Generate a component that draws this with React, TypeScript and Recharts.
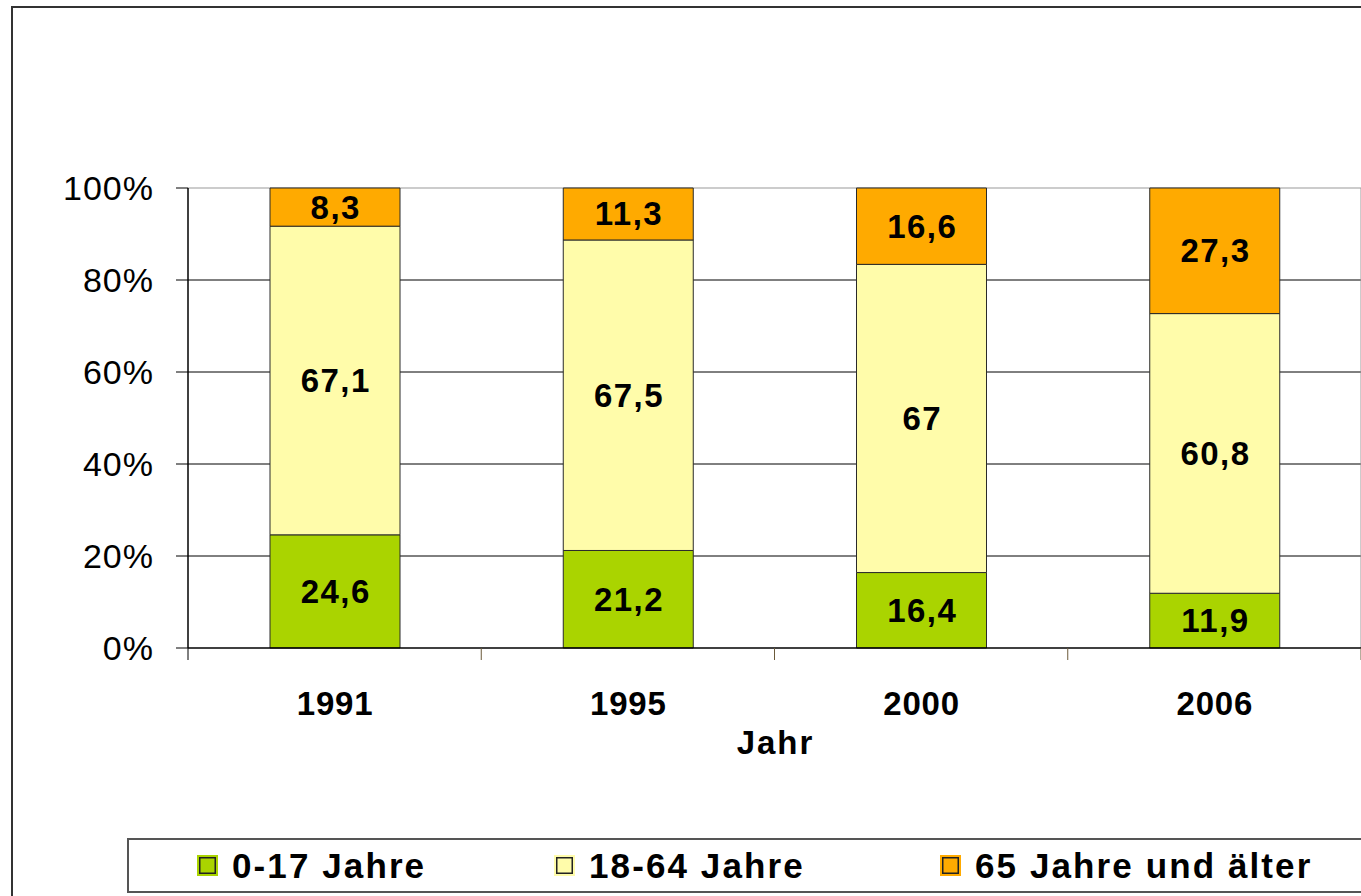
import React from "react";
import {
  BarChart,
  Bar,
  XAxis,
  YAxis,
  CartesianGrid,
  Legend,
  LabelList,
} from "recharts";

// ---- data ----
const years = ["1991", "1995", "2000", "2006"];
const kids = [24.6, 21.2, 16.4, 11.9]; // 0-17 Jahre
const adults = [67.1, 67.5, 67, 60.8]; // 18-64 Jahre
const seniors = [8.3, 11.3, 16.6, 27.3]; // 65 Jahre und älter
const seriesNames = ["0-17 Jahre", "18-64 Jahre", "65 Jahre und älter"];
const yTicks = [0, 20, 40, 60, 80, 100];
const gridValues = [20, 40, 60, 80];
const topValue = [100];
const xLabel = "Jahr";

const data = years.map((y, i) => ({
  year: y,
  kids: kids[i],
  adults: adults[i],
  seniors: seniors[i],
}));

const COLORS = ["#AAD400", "#FFFCAA", "#FFAA00"];
const FONT = "'Liberation Sans', Arial, sans-serif";

const CHART_W = 1500;
const CHART_H = 896;
const PLOT_LEFT = 188;
const PLOT_TOP = 188;
const PLOT_RIGHT = 1361;
const PLOT_BOTTOM = 648;
const Y_AXIS_W = 150;
const X_AXIS_H = 110;
const TICK = 12;

const fmt = (v: number) => String(v).replace(".", ",");

const XTick = (props: any) => {
  const { x, y, payload, index, width, visibleTicksCount } = props;
  let half =
    payload && typeof payload.offset === "number" && payload.offset > 0
      ? payload.offset
      : width / (2 * (visibleTicksCount || years.length));
  return (
    <g>
      {index === 0 && (
        <line x1={x - half} x2={x - half} y1={y} y2={y + TICK} stroke="#000" strokeWidth={1} />
      )}
      <line x1={x + half} x2={x + half} y1={y} y2={y + TICK} stroke="#6b5a3a" strokeWidth={1} />
      <text
        x={x + 0.5}
        y={y + 55}
        textAnchor="middle"
        dominantBaseline="central"
        fontFamily={FONT}
        fontWeight="bold"
        fontSize={33}
        letterSpacing={0.8}
        fill="#000"
      >
        {payload.value}
      </text>
    </g>
  );
};

const XLabel = (props: any) => {
  const vb = props.viewBox || {};
  return (
    <text
      x={vb.x + vb.width / 2 + 1}
      y={vb.y + 94}
      textAnchor="middle"
      dominantBaseline="central"
      fontFamily={FONT}
      fontWeight="bold"
      fontSize={33}
      letterSpacing={2}
      fill="#000"
    >
      {xLabel}
    </text>
  );
};

const SegLabel = (props: any) => {
  const vb = props.viewBox || props;
  const x = vb.x ?? props.x;
  const y = vb.y ?? props.y;
  const w = vb.width ?? props.width;
  const h = vb.height ?? props.height;
  return (
    <text
      x={x + w / 2 + 0.75}
      y={y + h / 2}
      textAnchor="middle"
      dominantBaseline="central"
      fontFamily={FONT}
      fontWeight="bold"
      fontSize={33}
      letterSpacing={1.5}
      fill="#000"
    >
      {fmt(props.value)}
    </text>
  );
};

const LegendBox = (props: any) => {
  const payload = props.payload || [];
  const itemWidths = [357, 386, 420];
  return (
    <div
      style={{
        boxSizing: "border-box",
        width: "100%",
        height: "100%",
        border: "2px solid #555",
        background: "#fff",
        display: "flex",
        alignItems: "center",
        paddingLeft: 68,
        fontFamily: FONT,
      }}
    >
      {payload.map((p: any, i: number) => (
        <div
          key={i}
          style={{
            width: itemWidths[i],
            display: "flex",
            alignItems: "center",
            flex: "none",
          }}
        >
          <div
            style={{
              boxSizing: "border-box",
              width: 21,
              height: 21,
              background: p.color,
              border: `2px solid ${p.color}`,
              boxShadow: "inset 0 0 0 1.5px #222",
              marginRight: 14,
              flex: "none",
            }}
          />
          <span
            style={{
              fontSize: 35,
              fontWeight: "bold",
              letterSpacing: 2.1,
              color: "#000",
              whiteSpace: "nowrap",
              lineHeight: 1,
            }}
          >
            {p.value}
          </span>
        </div>
      ))}
    </div>
  );
};

export default function App() {
  return (
    <div
      style={{
        position: "fixed",
        left: 0,
        top: 0,
        width: 1361,
        height: 896,
        overflow: "hidden",
        background: "#fff",
      }}
    >
      <div
        style={{
          position: "absolute",
          left: 11,
          top: 6,
          width: 1600,
          height: 1200,
          border: "2px solid #333",
        }}
      />
      <div style={{ position: "absolute", left: 0, top: 0 }}>
        <BarChart
          width={CHART_W}
          height={CHART_H}
          data={data}
          margin={{
            top: PLOT_TOP,
            left: PLOT_LEFT - Y_AXIS_W,
            right: CHART_W - PLOT_RIGHT,
            bottom: CHART_H - PLOT_BOTTOM - X_AXIS_H,
          }}
          barSize={130}
        >
          <CartesianGrid
            vertical={false}
            horizontalValues={gridValues}
            stroke="#000"
            strokeWidth={1}
          />
          <CartesianGrid
            horizontalValues={topValue}
            verticalCoordinatesGenerator={({ offset }: any) => [offset.left + offset.width]}
            stroke="#999"
            strokeWidth={1}
          />
          <XAxis
            dataKey="year"
            height={X_AXIS_H}
            tickLine={false}
            tickSize={0}
            tickMargin={0}
            axisLine={{ stroke: "#000", strokeWidth: 1.5 }}
            tick={<XTick />}
            interval={0}
            label={<XLabel />}
          />
          <YAxis
            width={Y_AXIS_W}
            domain={[0, 100]}
            ticks={yTicks}
            interval={0}
            tickFormatter={(v: number) => `${v}%`}
            tickSize={TICK}
            tickMargin={22}
            tickLine={{ stroke: "#000" }}
            axisLine={{ stroke: "#000", strokeWidth: 1.5 }}
            tick={{
              fill: "#000",
              fontSize: 34,
              fontFamily: FONT,
              letterSpacing: 1,
            }}
          />
          <Legend
            layout="horizontal"
            verticalAlign="middle"
            align="center"
            wrapperStyle={{ position: "absolute", left: 127, top: 838, width: 1400, height: 55 }}
            content={<LegendBox />}
          />
          <Bar dataKey="kids" name={seriesNames[0]} stackId="a" fill={COLORS[0]} stroke="#2a2a2a" strokeWidth={1} isAnimationActive={false}>
            <LabelList dataKey="kids" content={<SegLabel />} />
          </Bar>
          <Bar dataKey="adults" name={seriesNames[1]} stackId="a" fill={COLORS[1]} stroke="#2a2a2a" strokeWidth={1} isAnimationActive={false}>
            <LabelList dataKey="adults" content={<SegLabel />} />
          </Bar>
          <Bar dataKey="seniors" name={seriesNames[2]} stackId="a" fill={COLORS[2]} stroke="#2a2a2a" strokeWidth={1} isAnimationActive={false}>
            <LabelList dataKey="seniors" content={<SegLabel />} />
          </Bar>
        </BarChart>
      </div>
    </div>
  );
}
